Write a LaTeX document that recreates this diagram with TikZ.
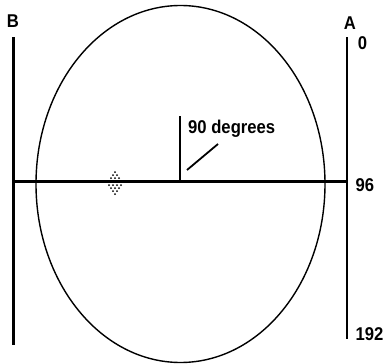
\documentclass[tikz,border=0pt]{standalone}
\usepackage{graphicx}
\usepackage{fontspec}
\setmainfont{Liberation Sans}
\newcommand{\cnd}[1]{\scalebox{0.9}[1]{#1}}
\begin{document}
\begin{tikzpicture}[x=1pt,y=-1pt,
  lbl/.style={font=\fontsize{18.5}{18.5}\selectfont\bfseries, inner sep=0pt},
  thickline/.style={line width=2.8pt},
  thinline/.style={line width=1.4pt},
  dotp/.style={fill=black, inner sep=0pt, minimum size=2pt, circle}]
\useasboundingbox (0,0) rectangle (384,364);
% ellipse
\draw[thinline] (180.5,184) ellipse [x radius=144.5, y radius=178.5];
% vertical bars
\coordinate (Btop) at (13.5,37);
\coordinate (Bbot) at (13.5,345);
\coordinate (Atop) at (347,37);
\coordinate (Abot) at (347,339);
\draw[thickline] (Btop) -- (Bbot);
\draw[thickline] (Atop) -- (Abot);
% horizontal
\coordinate (Hl) at (13.5,181);
\coordinate (Hr) at (347,181);
\draw[line width=3pt] (Hl) -- (Hr);
% tick
\coordinate (Tt) at (180,116);
\coordinate (Tb) at (180,181);
\draw[thinline] (Tt) -- (Tb);
% labels
\node[lbl] (B) at (13,21.5) {\cnd{B}};
\node[lbl] (A) at (350,23.5) {\cnd{A}};
\node[lbl] (z) at (362.5,43.5) {\cnd{0}};
\node[lbl] (n96) at (365,185) {\cnd{96}};
\node[lbl] (n192) at (369.5,334) {\cnd{192}};
\node[lbl, anchor=base west] (deg) at (188,133) {\cnd{90 degrees}};
% pointer
\coordinate (Pa) at (187,170);
\coordinate (Pb) at (218,144);
\draw[line width=1.8pt] (Pa) -- (Pb);
% dither diamond
\foreach \x/\y in {115/172, 113/175, 117/175, 111/178, 115/178, 119/178,
                   109/185, 113/185, 117/185, 121/185, 111/188, 115/188, 119/188,
                   113/191, 117/191, 115/194}
  \node[dotp] at (\x,\y) {};
\end{tikzpicture}
\end{document}
